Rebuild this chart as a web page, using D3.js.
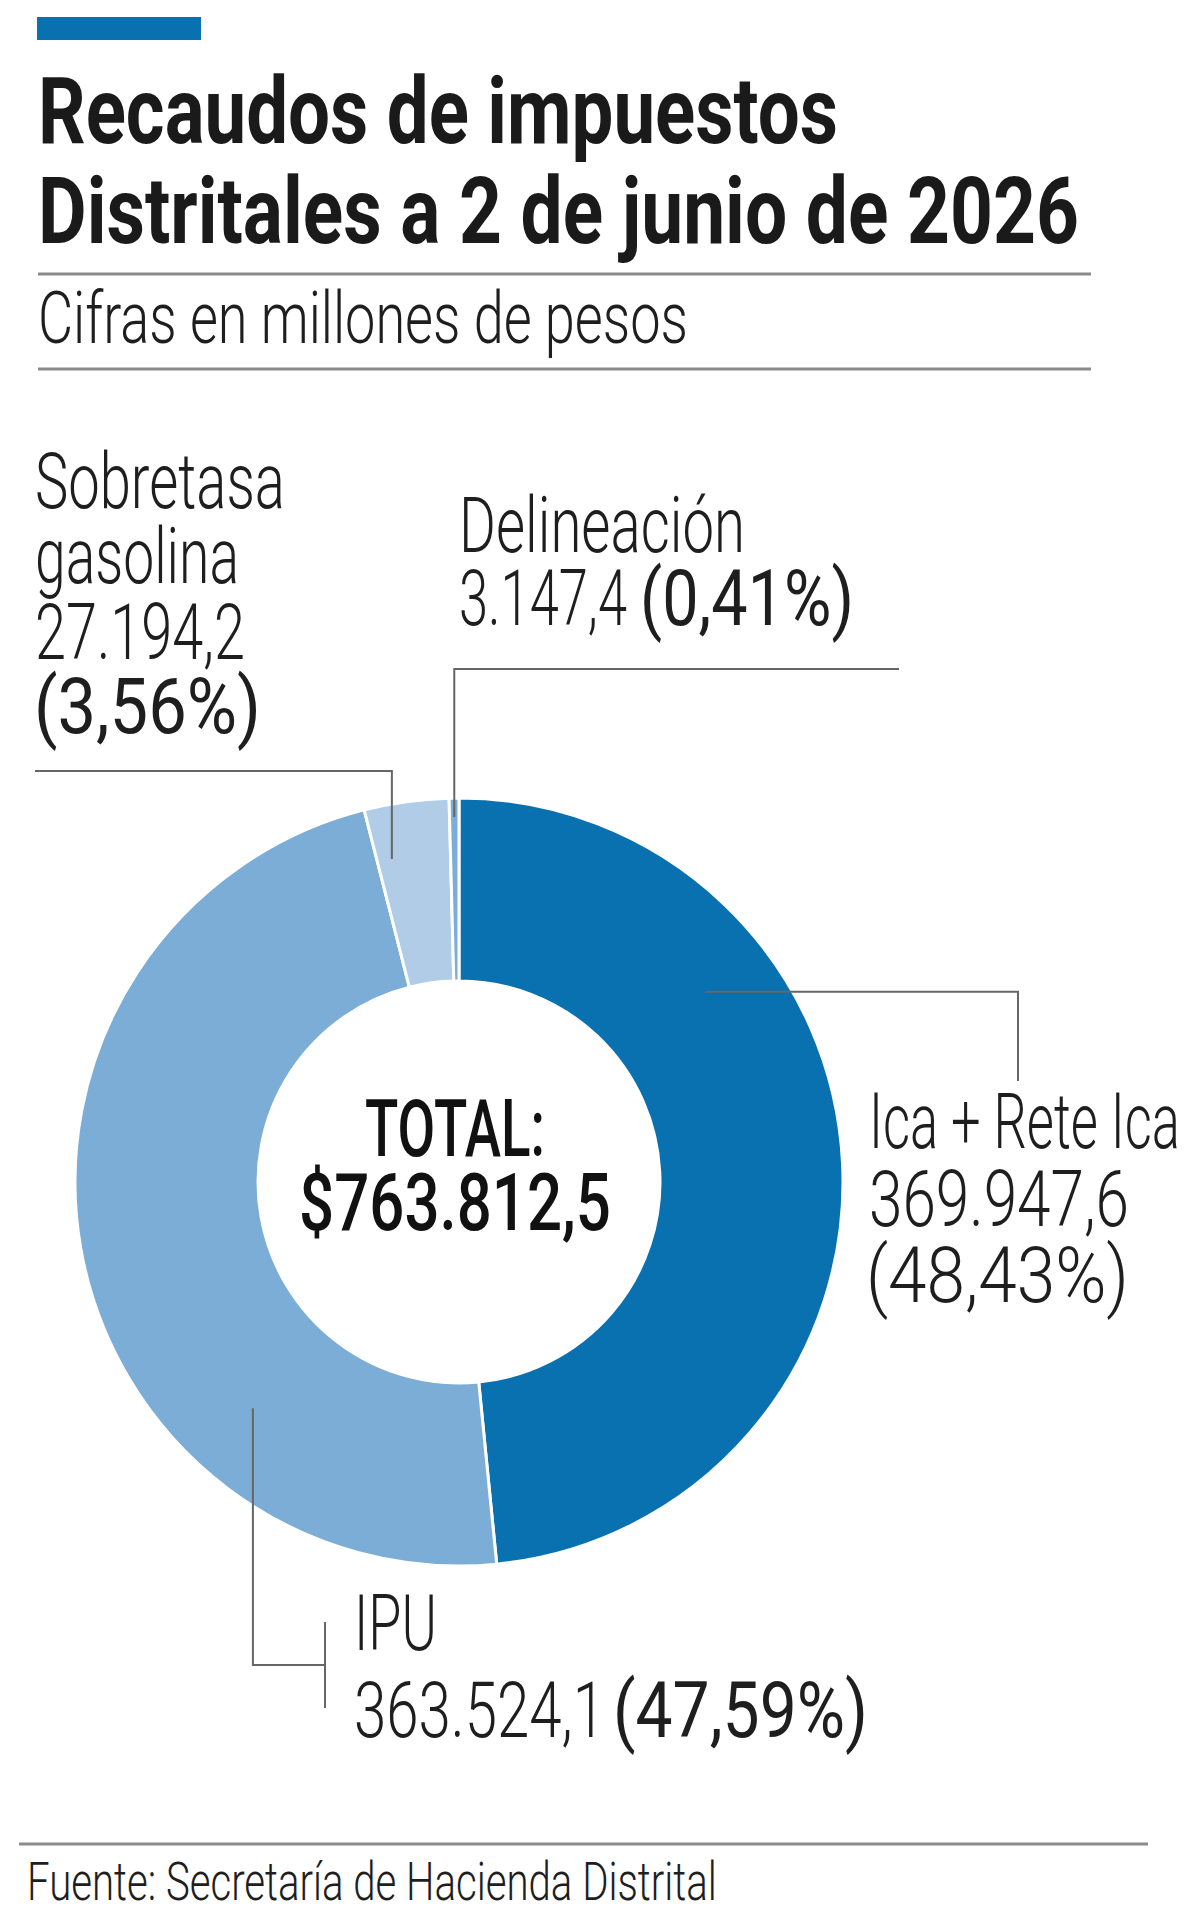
<!DOCTYPE html>
<html>
<head>
  <meta charset="utf-8">
  <title>Recaudos de impuestos Distritales</title>
  <script src="https://cdn.jsdelivr.net/npm/d3@7/dist/d3.min.js"></script>
</head>
<style type="text/css">
  body {
    margin: 0;
    background-color: #ffffff;
  }

  text {
    font-family: Roboto, "Liberation Sans Narrow", sans-serif;
  }

  .leader {
    fill: none;
    stroke: #666666;
    stroke-width: 2;
  }

  .rule {
    stroke: #8a8a8a;
    stroke-width: 3;
  }
</style>

<body>
  <svg width="1200" height="1924" id="mainsvg"></svg>
  <script>

    // values (millones de pesos)
    const categories = ["Ica + Rete Ica", "IPU", "Sobretasa gasolina", "Delineación"];
    const amounts = [369947.6, 363524.1, 27194.2, 3147.4];
    const amountLabels = ["369.947,6", "363.524,1", "27.194,2", "3.147,4"];
    const shareLabels = ["(48,43%)", "(47,59%)", "(3,56%)", "(0,41%)"];
    const totalLabel = "$763.812,5";

    const titleLines = ["Recaudos de impuestos", "Distritales a 2 de junio de 2026"];
    const subtitle = "Cifras en millones de pesos";
    const source = "Fuente: Secretaría de Hacienda Distrital";

    const svg = d3.select('#mainsvg');
    const width = +svg.attr('width');
    const height = +svg.attr('height');

    svg.append('rect').attr('width', width).attr('height', height).attr('fill', '#ffffff');

    const color = d3.scaleOrdinal()
      .domain(categories)
      .range(["#0a71b1", "#7badd6", "#b0cce6", "#7badd6"]);

    // condensed look: font size picked so the natural width is w,
    // then the glyphs are stretched back up to the wanted height
    const fitText = function (parent, str, x, y, w, size, weight, anchor) {
      const g = parent.append('g');
      const t = g.append('text')
        .attr('text-anchor', anchor || 'start')
        .style('font-size', size + 'px')
        .style('font-weight', weight)
        .style('fill', '#1e1e1e')
        .text(str);
      const natural = t.node().getComputedTextLength();
      const s = w / natural;
      t.style('font-size', (size * s) + 'px');
      g.attr('transform', `translate(${x}, ${y}) scale(1, ${1 / s})`);
      return t;
    }

    // header
    svg.append('rect')
      .attr('x', 37).attr('y', 17)
      .attr('width', 164).attr('height', 23)
      .attr('fill', '#0a71b1');

    const titleWidths = [800, 1041];
    titleLines.forEach((d, i) => {
      fitText(svg, d, 38, 143 + i * 100, titleWidths[i], 93, 700).style('fill', '#1a1a1a');
    });

    svg.append('line').attr('class', 'rule')
      .attr('x1', 38).attr('x2', 1091).attr('y1', 274).attr('y2', 274);

    fitText(svg, subtitle, 38, 343, 650, 72, 300);

    svg.append('line').attr('class', 'rule')
      .attr('x1', 38).attr('x2', 1091).attr('y1', 369).attr('y2', 369);

    // donut
    const cx = 459, cy = 1182;
    const outerR = 384, innerR = 201;

    const pie = d3.pie().sort(null).value(d => d.value);
    const arcs = pie(categories.map((c, i) => ({ name: c, value: amounts[i] })));
    const arc = d3.arc().innerRadius(innerR).outerRadius(outerR);

    const g = svg.append('g').attr('transform', `translate(${cx}, ${cy})`);
    g.selectAll('path')
      .data(arcs)
      .enter()
      .append('path')
      .attr('d', arc)
      .attr('fill', d => color(d.data.name))
      .attr('stroke', '#ffffff')
      .attr('stroke-width', 3);

    fitText(g, 'TOTAL:', -4, -26, 180, 79, 500, 'middle').style('fill', '#111111');
    fitText(g, totalLabel, -4, 48, 312, 79, 500, 'middle').style('fill', '#111111');

    // point inside a slice, t = fraction along the slice, r = radius
    const innerPoint = function (a, t, r) {
      const ang = a.startAngle + t * (a.endAngle - a.startAngle);
      return [cx + r * Math.sin(ang), cy - r * Math.cos(ang)];
    }

    // label placement for each category (layout only)
    const layout = [
      {
        lines: [
          { text: categories[0], x: 869, y: 1148, w: 311 },
          { text: amountLabels[0], x: 869, y: 1226, w: 260 },
          { text: shareLabels[0], x: 866, y: 1302, w: 263 }
        ],
        leader: (p) => [p, [1018, p[1]], [1018, 1081]],
        t: 0.30, r: 311
      },
      {
        lines: [
          { text: 'IPU', x: 354, y: 1650, w: 83 },
          { text: amountLabels[1], x: 354, y: 1737, w: 251 },
          { text: shareLabels[1], x: 613, y: 1737, w: 255, share: true }
        ],
        leader: (p) => [p, [p[0], 1665], [325, 1665]],
        bracket: [[325, 1622], [325, 1708]],
        t: 0.28, r: 306
      },
      {
        lines: [
          { text: 'Sobretasa', x: 35, y: 508, w: 250 },
          { text: 'gasolina', x: 35, y: 583, w: 204 },
          { text: amountLabels[2], x: 35, y: 659, w: 210 },
          { text: shareLabels[2], x: 34, y: 733, w: 227, share: true }
        ],
        leader: (p) => [p, [p[0], 771], [35, 771]],
        t: 0.2, r: 330
      },
      {
        lines: [
          { text: categories[3], x: 459, y: 552, w: 286 },
          { text: amountLabels[3], x: 459, y: 625, w: 168 },
          { text: shareLabels[3], x: 640, y: 625, w: 214, share: true }
        ],
        leader: (p) => [p, [p[0], 669], [899, 669]],
        t: 0.5, r: 365
      }
    ];

    const lineGen = d3.line();
    layout.forEach((L, i) => {
      const p = innerPoint(arcs[i], L.t, L.r);
      svg.append('path')
        .attr('class', 'leader')
        .attr('d', lineGen(L.leader(p)));
      if (L.bracket) {
        svg.append('path')
          .attr('class', 'leader')
          .attr('d', lineGen(L.bracket));
      }
      L.lines.forEach(d => {
        fitText(svg, d.text, d.x, d.y, d.w, 77, d.share ? 400 : 300);
      });
    });

    // footer
    svg.append('line').attr('class', 'rule')
      .attr('x1', 19).attr('x2', 1148).attr('y1', 1844).attr('y2', 1844);

    fitText(svg, source, 27, 1900, 690, 53, 300);
  </script>
</body>

</html>
